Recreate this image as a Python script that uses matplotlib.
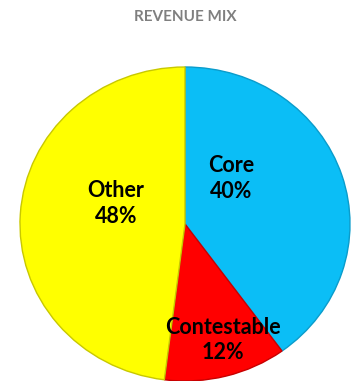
import matplotlib
matplotlib.use("Agg")
import matplotlib.pyplot as plt

categories = ["Core", "Contestable", "Other"]
shares = [40, 12, 48]
colors = ["#0BBEF6", "#FF0000", "#FFFF00"]
edge_colors = ["#0A9CCB", "#C80000", "#C8C800"]
# label anchor positions in axes units (pie radius = 1)
label_pos = [(0.28, 0.29), (0.23, -0.74), (-0.42, 0.13)]

W, H = 353, 381
fig = plt.figure(figsize=(W / 100, H / 100), dpi=100)
fig.patch.set_facecolor("white")

# pie box: x 20..350, y 67..381 (pixels from top)
ax = fig.add_axes([20 / W, 0 / H, 330 / W, 314 / H])
wedges, texts, autotexts = ax.pie(
    shares, colors=colors, startangle=90, counterclock=False,
    autopct=lambda p: "", wedgeprops=dict(linewidth=1.0),
)
for w, ec in zip(wedges, edge_colors):
    w.set_edgecolor(ec)
ax.set_aspect("auto")
ax.set_xlim(-1.0, 1.0)
ax.set_ylim(-1.0, 1.0)
ax.axis("off")

for cat, val, at, pos in zip(categories, shares, autotexts, label_pos):
    at.set_text(f"{cat}\n{val}%")
    at.set_position(pos)
    at.set_fontsize(15.5)
    at.set_fontweight("bold")
    at.set_family(["Lato", "DejaVu Sans"])
    at.set_color("black")
    at.set_ha("center")
    at.set_va("center")
    at.set_linespacing(1.25)

fig.text(185 / W, 1 - 17 / H, "REVENUE MIX", ha="center", va="center",
         fontsize=11, fontweight="bold", color="#7F7F7F",
         family=["Lato", "DejaVu Sans"])

fig.savefig("out.png", dpi=100, facecolor="white")
